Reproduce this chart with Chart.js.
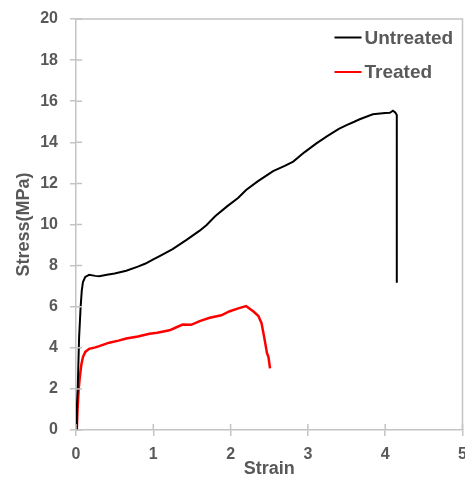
<!DOCTYPE html>
<html>
<head>
<meta charset="utf-8">
<script src="https://cdn.jsdelivr.net/npm/chart.js@4.4.1/dist/chart.umd.min.js"></script>
<style>
  html, body { margin: 0; padding: 0; background: #fff; }
  #wrap { width: 465px; height: 480px; }
</style>
</head>
<body>
<div id="wrap"><canvas id="stressChart" width="465" height="480"></canvas></div>
<script>
const seriesLabels = ['Untreated', 'Treated'];
const seriesColors = ['#000000', '#ff0000'];

const strainUntreated = [0.0, 0.01, 0.023, 0.04, 0.06, 0.075, 0.09, 0.12, 0.17, 0.25, 0.3, 0.4, 0.5, 0.65, 0.8, 0.9, 1.0, 1.1, 1.25, 1.43, 1.6, 1.69, 1.8, 1.95, 2.1, 2.2, 2.35, 2.55, 2.7, 2.81, 2.95, 3.11, 3.25, 3.4, 3.5, 3.6, 3.67, 3.84, 4.0, 4.06, 4.1, 4.13, 4.15, 4.15];
const stressUntreated = [0, 1.0, 2.1, 4.5, 6.0, 6.8, 7.2, 7.45, 7.55, 7.5, 7.48, 7.55, 7.62, 7.75, 7.95, 8.1, 8.3, 8.5, 8.8, 9.25, 9.7, 9.98, 10.4, 10.87, 11.3, 11.68, 12.1, 12.6, 12.85, 13.06, 13.5, 13.95, 14.3, 14.65, 14.84, 15.0, 15.12, 15.36, 15.42, 15.44, 15.54, 15.45, 15.33, 7.17];

const strainTreated = [0.01, 0.02, 0.035, 0.05, 0.07, 0.09, 0.12, 0.17, 0.25, 0.3, 0.43, 0.55, 0.65, 0.8, 0.95, 1.05, 1.21, 1.3, 1.38, 1.49, 1.6, 1.73, 1.88, 1.99, 2.1, 2.2, 2.3, 2.36, 2.4, 2.44, 2.47, 2.49, 2.51];
const stressTreated = [0, 1.0, 2.0, 2.6, 3.2, 3.55, 3.8, 3.95, 4.02, 4.08, 4.25, 4.35, 4.45, 4.55, 4.68, 4.73, 4.85, 5.0, 5.13, 5.12, 5.3, 5.46, 5.58, 5.78, 5.92, 6.03, 5.75, 5.55, 5.2, 4.4, 3.75, 3.55, 3.0];

const xTicks = [0, 1, 2, 3, 4, 5];
const yTicks = [0, 2, 4, 6, 8, 10, 12, 14, 16, 18, 20];

const textGray = '#595959';
const axisGray = '#c4c4c4';
const fontFamily = '"Liberation Sans", Arial, sans-serif';

function toPoints(xs, ys) {
  return xs.map((x, i) => ({ x, y: ys[i] }));
}

// Excel style: tick marks crossing the axis, plus box round the plot
const framePlugin = {
  id: 'frame',
  afterDraw(chart) {
    const { ctx, chartArea: a, scales } = chart;
    ctx.save();
    ctx.strokeStyle = axisGray;
    ctx.lineWidth = 1.5;
    ctx.beginPath();
    ctx.moveTo(a.left, a.top);
    ctx.lineTo(a.right, a.top);
    ctx.lineTo(a.right, a.bottom);
    ctx.stroke();
    ctx.beginPath();
    scales.x.ticks.forEach(t => {
      const px = scales.x.getPixelForValue(t.value);
      ctx.moveTo(px, a.bottom);
      ctx.lineTo(px, a.bottom - 6);
    });
    scales.y.ticks.forEach(t => {
      const py = scales.y.getPixelForValue(t.value);
      ctx.moveTo(a.left, py);
      ctx.lineTo(a.left + 6, py);
    });
    ctx.stroke();

    // legend, top right inside the plot
    ctx.font = 'bold 19px ' + fontFamily;
    ctx.textBaseline = 'middle';
    ctx.textAlign = 'left';
    chart.data.datasets.forEach((ds, i) => {
      const y = a.top + 18.5 + i * 34.5;
      ctx.strokeStyle = ds.borderColor;
      ctx.lineWidth = 2;
      ctx.beginPath();
      ctx.moveTo(a.right - 128, y);
      ctx.lineTo(a.right - 101, y);
      ctx.stroke();
      ctx.fillStyle = textGray;
      ctx.fillText(ds.label, a.right - 98, y + 1);
    });
    ctx.restore();
  }
};

new Chart(document.getElementById('stressChart').getContext('2d'), {
  type: 'scatter',
  data: {
    datasets: [
      {
        label: seriesLabels[0],
        data: toPoints(strainUntreated, stressUntreated),
        borderColor: seriesColors[0],
        borderWidth: 2,
        showLine: true,
        pointRadius: 0,
        tension: 0
      },
      {
        label: seriesLabels[1],
        data: toPoints(strainTreated, stressTreated),
        borderColor: seriesColors[1],
        borderWidth: 2.5,
        showLine: true,
        pointRadius: 0,
        tension: 0
      }
    ]
  },
  options: {
    responsive: false,
    animation: false,
    layout: { padding: { left: 0, top: 19, right: 2.5, bottom: 0 } },
    plugins: {
      legend: { display: false },
      tooltip: { enabled: false }
    },
    scales: {
      x: {
        type: 'linear',
        min: xTicks[0],
        max: xTicks[xTicks.length - 1],
        afterBuildTicks(scale) {
          scale.ticks = xTicks.map(v => ({ value: v }));
        },
        afterFit(scale) {
          scale.height = 50;
          scale.paddingLeft = 0;
          scale.paddingRight = 0;
        },
        grid: { drawOnChartArea: false, color: axisGray, tickLength: 6, lineWidth: 1.5 },
        border: { color: axisGray, width: 1.5 },
        ticks: {
          color: textGray,
          padding: 9,
          maxRotation: 0,
          font: { family: fontFamily, size: 16, weight: 'bold' }
        },
        title: {
          display: true,
          text: 'Strain',
          color: textGray,
          padding: { top: 0, bottom: 0 },
          font: { family: fontFamily, size: 18, weight: 'bold' }
        }
      },
      y: {
        type: 'linear',
        min: yTicks[0],
        max: yTicks[yTicks.length - 1],
        afterBuildTicks(scale) {
          scale.ticks = yTicks.map(v => ({ value: v }));
        },
        afterFit(scale) {
          scale.width = 76;
          scale.paddingTop = 0;
          scale.paddingBottom = 0;
        },
        grid: { drawOnChartArea: false, color: axisGray, tickLength: 6, lineWidth: 1.5 },
        border: { color: axisGray, width: 1.5 },
        ticks: {
          color: textGray,
          padding: 12,
          font: { family: fontFamily, size: 16, weight: 'bold' }
        },
        title: {
          display: true,
          text: 'Stress(MPa)',
          color: textGray,
          padding: { top: 13, bottom: 0 },
          font: { family: fontFamily, size: 18, weight: 'bold' }
        }
      }
    }
  },
  plugins: [framePlugin]
});
</script>
</body>
</html>
